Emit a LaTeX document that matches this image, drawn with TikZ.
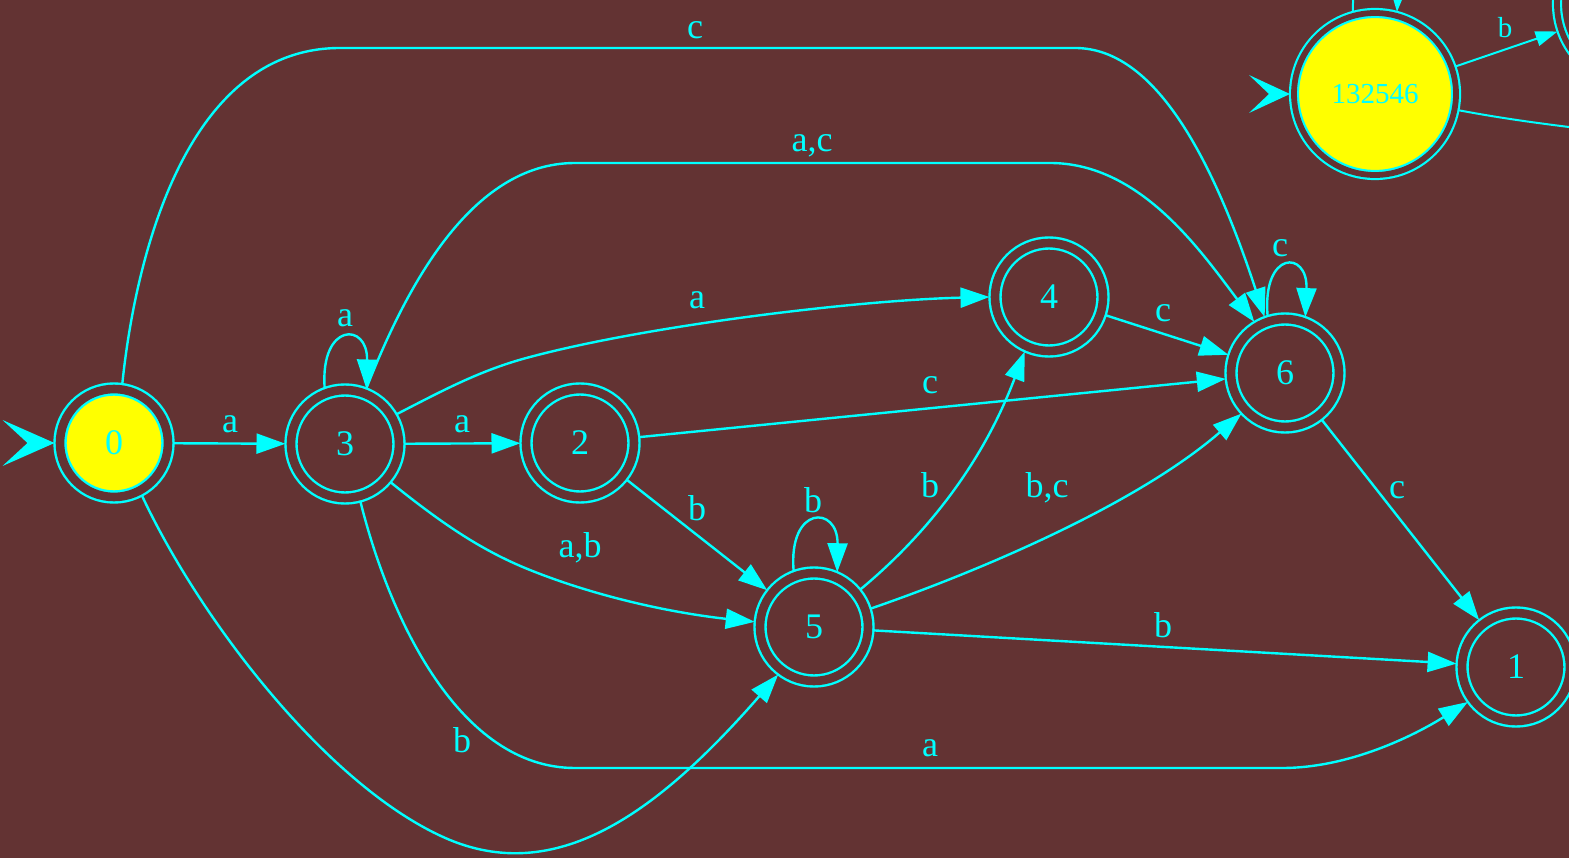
\documentclass[tikz,border=0pt]{standalone}
\usepackage{fontspec}
\setmainfont{Liberation Serif}
\usetikzlibrary{arrows.meta}
\definecolor{bgc}{RGB}{99,51,51}
\definecolor{edgec}{RGB}{0,255,255}
\definecolor{fillc}{RGB}{255,255,0}
\begin{document}
\begin{tikzpicture}[x=1pt,y=-1pt,
  every node/.style={inner sep=0pt},
  edge/.style={draw=edgec, line width=2.4pt, -{Triangle[length=29pt,width=20pt]}},
  plainedge/.style={draw=edgec, line width=2pt},
  smalledge/.style={draw=edgec, line width=2pt, -{Triangle[length=22pt,width=15pt]}},
  state/.style={circle, draw=edgec, line width=2.4pt, double=bgc, double distance=8.6pt, minimum size=108pt, outer sep=5.5pt, text=edgec, font=\fontsize{36}{40}\selectfont},
  bigstate/.style={circle, draw=edgec, line width=2.2pt, double=bgc, double distance=5.8pt, minimum size=162pt, outer sep=4pt, text=edgec, font=\fontsize{29}{32}\selectfont},
  lbl/.style={text=edgec, font=\fontsize{36}{40}\selectfont},
  smalllbl/.style={text=edgec, font=\fontsize{29}{32}\selectfont},
]
\useasboundingbox (0,0) rectangle (1569,858);
\clip (0,0) rectangle (1569,858);
\fill[bgc] (0,0) rectangle (1569,858);

% nodes
\node[state, fill=fillc] (n0) at (114,443) {0};
\node[state] (n3) at (345,444) {3};
\node[state] (n2) at (580,443) {2};
\node[state] (n4) at (1049,297) {4};
\node[state] (n6) at (1285,373) {6};
\node[state] (n5) at (814,627) {5};
\node[state] (n1) at (1516,667) {1};
\node[bigstate, fill=fillc] (nS) at (1375,94) {132546};
\node[bigstate] (nP) at (1638,4) {};

\coordinate (offR) at (1620,133);

% start arrows (vee heads)
\fill[edgec] (n0.west) -- ++(-52,-23) -- ++(25,23) -- ++(-25,23) -- cycle;
\fill[edgec] (nS.west) -- ++(-41,-19) -- ++(20,19) -- ++(-20,19) -- cycle;

% edges of the main graph
\draw[edge] (n0) -- (n3) node[lbl] at (230,424) {a};
\draw[edge] (n0.82) .. controls (135,260) and (185,48) .. (340,48) -- (1075,48)
  .. controls (1140,48) and (1200,120) .. (n6.110) node[lbl] at (695,30) {c};
\draw[edge] (n3.69) .. controls (405,290) and (470,163) .. (575,163) -- (1050,163)
  .. controls (1140,163) and (1200,250) .. (n6.121) node[lbl] at (812,146) {a,c};
\draw[edge] (n3.110) .. controls (320,322) and (368,322) .. (n3.69) node[lbl] at (345,318) {a};
\draw[edge] (n3.30) .. controls (440,392) and (480,370) .. (530,357)
  .. controls (650,325) and (860,300) .. (n4.west) node[lbl] at (697,300) {a};
\draw[edge] (n3) -- (n2) node[lbl] at (462,424) {a};
\draw[edge] (n3.-40) .. controls (440,522) and (480,550) .. (530,570)
  .. controls (610,602) and (690,615) .. (n5.175) node[lbl] at (580,548) {a,b};
\draw[edge] (n3.-75) .. controls (390,620) and (460,768) .. (575,768) -- (1282,768)
  .. controls (1350,768) and (1415,735) .. (n1.-144) node[lbl] at (930,748) {a};
\draw[edge] (n0.-62) .. controls (200,620) and (330,790) .. (450,840)
  .. controls (560,885) and (660,810) .. (n5.-127) node[lbl] at (462,740) {b};
\draw[edge] (n2) -- (n6) node[lbl] at (930,385) {c};
\draw[edge] (n2) -- (n5) node[lbl] at (697,508) {b};
\draw[edge] (n5.110) .. controls (788,505) and (838,505) .. (n5.67) node[lbl] at (813,500) {b};
\draw[edge] (n5.39) .. controls (920,540) and (980,470) .. (n4.-114) node[lbl] at (930,485) {b};
\draw[edge] (n5.18) .. controls (960,578) and (1130,510) .. (n6.-137) node[lbl] at (1047,488) {b,c};
\draw[edge] (n5) -- (n1) node[lbl] at (1163,625) {b};
\draw[edge] (n4) -- (n6) node[lbl] at (1163,313) {c};
\draw[edge] (n6.107) .. controls (1262,250) and (1308,250) .. (n6.70) node[lbl] at (1280,248) {c};
\draw[edge] (n6) -- (n1) node[lbl] at (1397,490) {c};

% edges of the second graph (cut by the border)
\draw[smalledge] (nS.105) .. controls (1350,-45) and (1400,-45) .. (nS.75);
\draw[smalledge] (nS) -- (nP) node[smalllbl] at (1505,28) {b};
\draw[plainedge] (nS.-11) .. controls (1500,118) and (1540,124) .. (offR);
\end{tikzpicture}
\end{document}
